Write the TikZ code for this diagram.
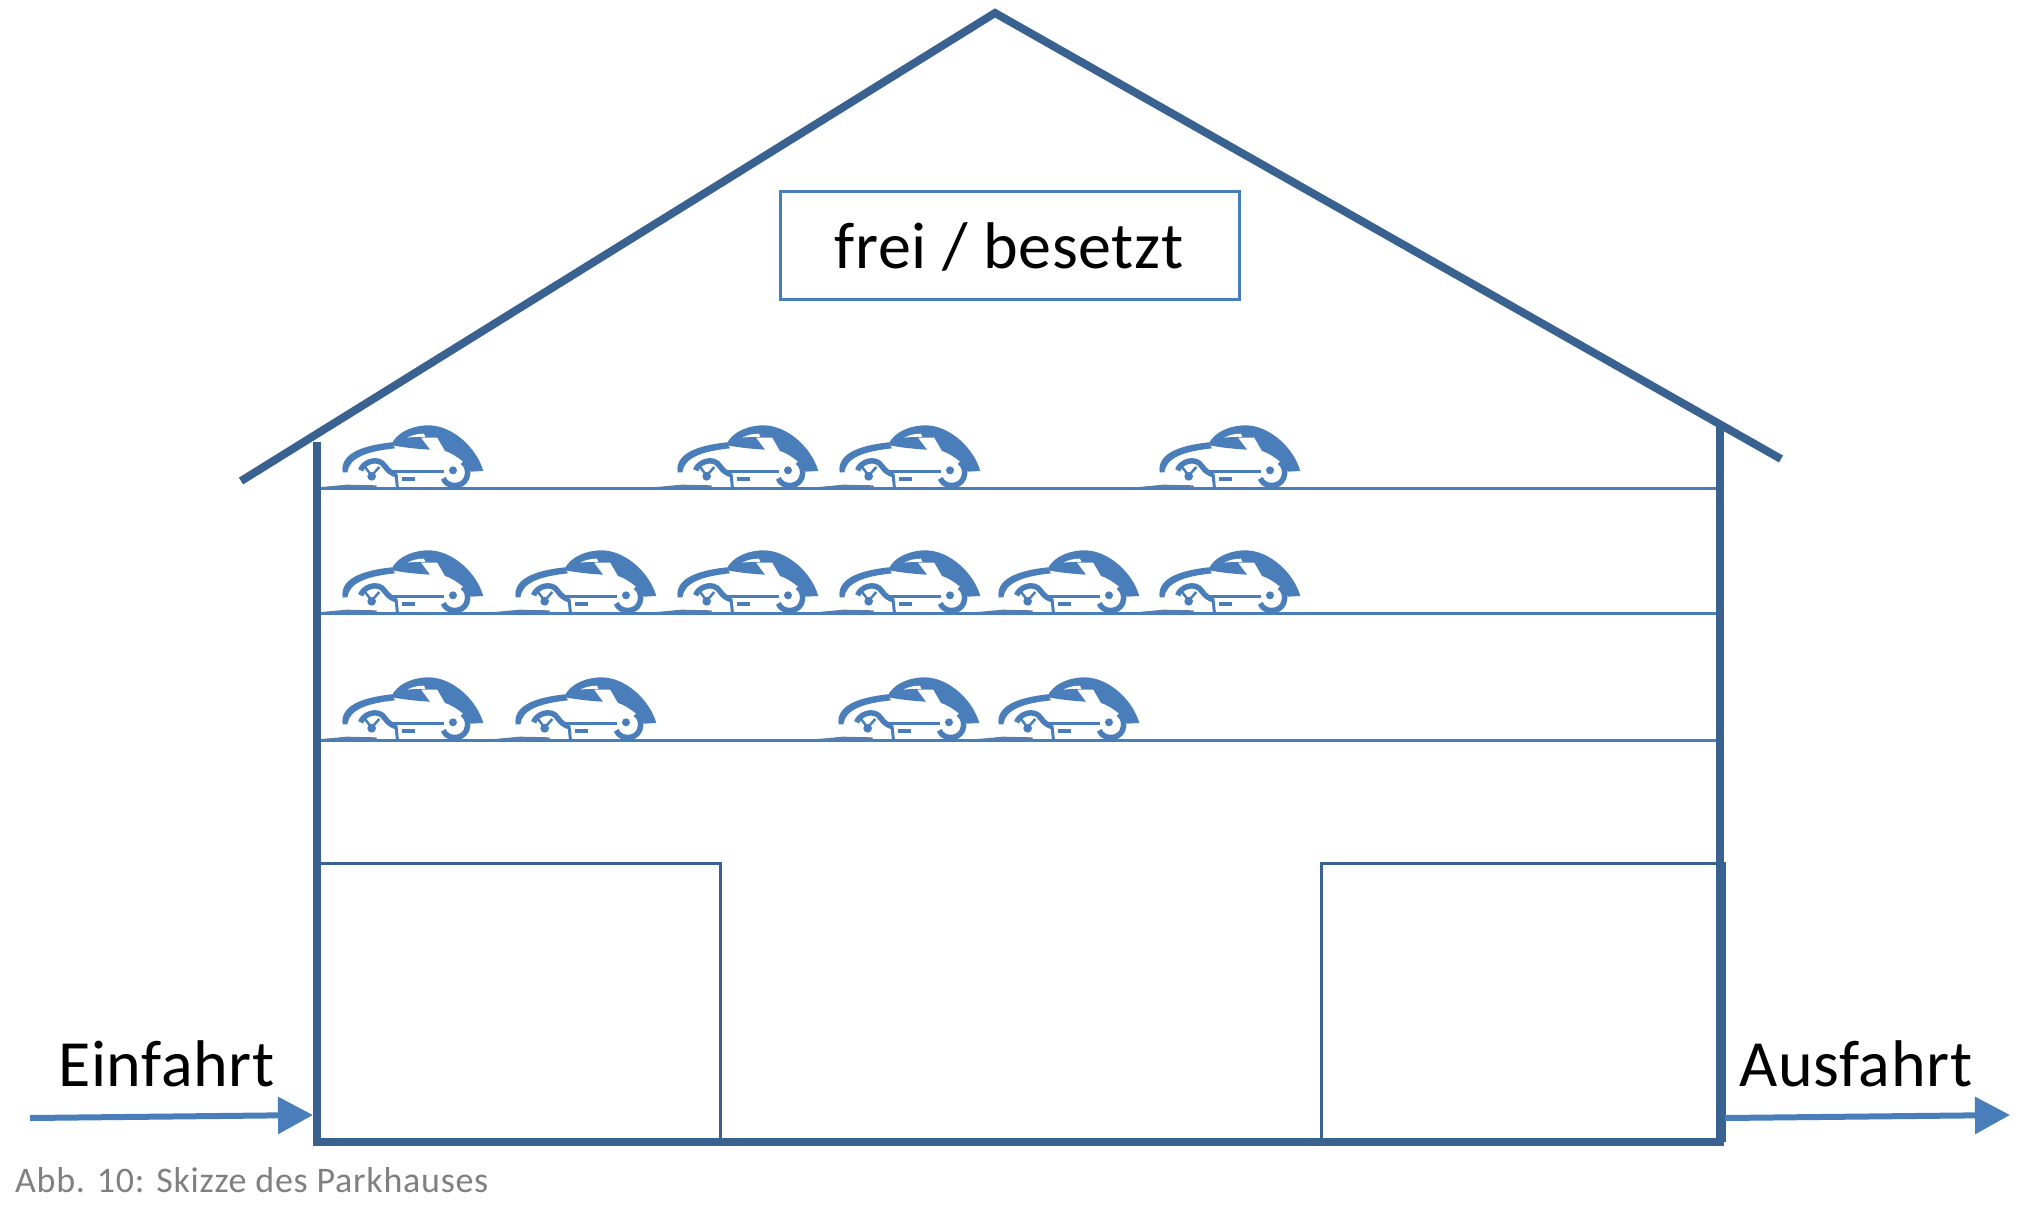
\documentclass[tikz,border=0pt]{standalone}
\usepackage{fontspec}
\setmainfont{Carlito}
\usetikzlibrary{arrows.meta}
\definecolor{dk}{HTML}{3A6291}
\definecolor{lt}{HTML}{4A7EBB}
\definecolor{capt}{HTML}{808080}
\tikzset{
  wall/.style={draw=dk,line width=8pt,line cap=butt,line join=miter},
  floorline/.style={draw=lt,line width=3pt},
  boxline/.style={draw=dk,line width=3pt},
  signbox/.style={draw=lt,line width=3pt,minimum width=459pt,minimum height=108pt,inner sep=0pt},
  flow/.style={draw=lt,line width=6pt,-{Triangle[length=35pt,width=36pt]}},
  label/.style={inner sep=0pt,anchor=base west,font=\fontsize{66}{72}\selectfont\addfontfeatures{LetterSpace=1}},
  car/.pic={
    \begin{scope}[x=0.3333pt,y=-0.3333pt,shift={(0,-232)}]
      \fill[lt] (68,188) .. controls (60,135) and (120,108) .. (215,98) -- (225,116) .. controls (140,125) and (88,144) .. (82,188) -- cycle;
      \fill[lt] (213,106) .. controls (235,60) and (290,46) .. (330,47) .. controls (400,50) and (470,115) .. (490,184) -- (452,186) .. controls (447,170) and (442,160) .. (428,155) .. controls (410,140) and (390,128) .. (375,124) -- (352,84) -- (303,84) -- (330,120) .. controls (290,118) and (240,112) .. (213,106) -- cycle;
      \fill[white] (262,84) .. controls (275,76) and (295,72) .. (312,72) -- (316,82) .. controls (295,80) and (280,82) .. (262,84) -- cycle;
      \draw[lt,line width=5.5pt] (370,206) .. controls (380,234) and (427,236) .. (440,205) .. controls (447,185) and (442,168) .. (428,157);
      \fill[lt] (399,182) circle[radius=12];
      \draw[lt,line width=3.5pt] (215,186) -- (372,186);
      \draw[lt,line width=5.5pt] (122,182) .. controls (128,158) and (175,138) .. (195,170) .. controls (205,185) and (215,190) .. (228,195);
      \draw[lt,line width=2.5pt] (135,172) -- (155,198) -- (178,172);
      \fill[lt] (155,200) circle[radius=13];
      \draw[lt,line width=3pt] (228,192) -- (232,232);
      \draw[lt,line width=3.5pt] (245,208) -- (286,208);
      \fill[lt!70!gray] (5,232) -- (80,225) -- (170,227) -- (170,232) -- cycle;
    \end{scope}
  }
}
\begin{document}
\begin{tikzpicture}[x=1pt,y=-1pt]
\useasboundingbox (0,0) rectangle (2028,1214);
\fill[white] (0,0) rectangle (2028,1214);
% named corners
\coordinate (eaves-l) at (241,481);
\coordinate (apex) at (995,13);
\coordinate (eaves-r) at (1781,459);
\coordinate (wall-lt) at (317,442);
\coordinate (wall-lb) at (317,1142);
\coordinate (wall-rb) at (1720,1142);
\coordinate (wall-rt) at (1720,427);
\coordinate (in-start) at (30,1118);
\coordinate (in-end) at (313,1115);
\coordinate (out-start) at (1725,1118);
\coordinate (out-end) at (2010,1115);
% floors
\foreach \n/\y in {a/488,b/613,c/740}{
  \coordinate (fl-\n) at (318,\y);
  \coordinate (fr-\n) at (1719,\y);
  \draw[floorline] (fl-\n) -- (fr-\n);
}
% cars
\foreach \x in {320,655,817,1137} \pic at (\x,487) {car};
\foreach \x in {320,493,655,817,976,1137} \pic at (\x,612) {car};
\foreach \x in {320,493,816,976} \pic at (\x,739) {car};
% lower boxes
\draw[boxline] (318,1142) -- (318,863) -- (720,863) -- (720,1142);
\draw[boxline] (1321,1142) -- (1321,863) -- (1724,863) -- (1724,1142);
% building
\draw[wall] (eaves-l) -- (apex) -- (eaves-r);
\draw[wall] (wall-lt) -- (wall-lb) -- (wall-rb) -- (wall-rt);
% sign
\node[signbox] (sign) at (1009.5,246) {};
\node[label,anchor=base] (signtext) at (1009,269) {frei / besetzt};
% arrows and labels
\draw[flow] (in-start) -- (in-end);
\draw[flow] (out-start) -- (out-end);
\node[label] (ein) at (58,1086) {Einfahrt};
\node[label] (aus) at (1739,1086) {Ausfahrt};
\node[inner sep=0pt,anchor=base west,text=capt,font=\fontsize{36}{40}\selectfont\addfontfeatures{LetterSpace=2}] (cap) at (15,1192) {Abb. 10: Skizze des Parkhauses};
\end{tikzpicture}
\end{document}
